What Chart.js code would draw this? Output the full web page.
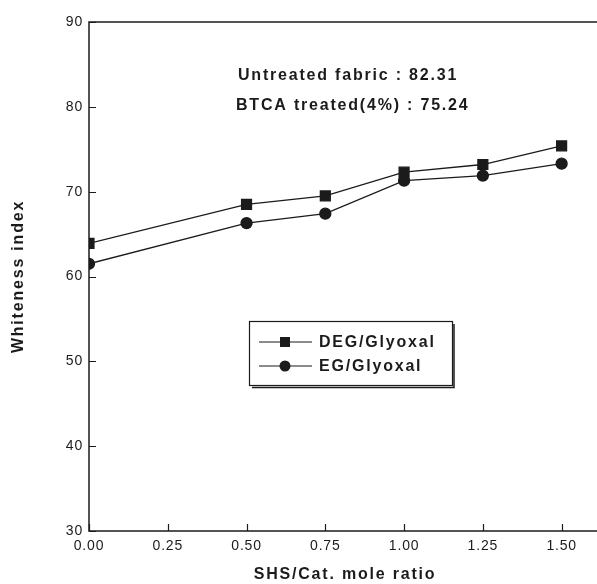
<!DOCTYPE html>
<html>
<head>
<meta charset="utf-8">
<script src="https://cdn.jsdelivr.net/npm/chart.js@4.4.1/dist/chart.umd.min.js"></script>
<style>
  html, body { margin: 0; padding: 0; background: #fff; overflow: hidden; }
  #wrap { width: 620px; height: 584px; }
</style>
</head>
<body>
<div id="wrap"><canvas id="whiteness" width="620" height="584"></canvas></div>
<script>
// values
const ratios = [0.00, 0.50, 0.75, 1.00, 1.25, 1.50];
const degGlyoxal = [63.9, 68.5, 69.5, 72.3, 73.2, 75.4];
const egGlyoxal = [61.5, 66.3, 67.4, 71.3, 71.9, 73.3];
const seriesNames = ['DEG/Glyoxal', 'EG/Glyoxal'];
const notes = ['Untreated fabric : 82.31', 'BTCA treated(4%) : 75.24'];
const yTicks = [30, 40, 50, 60, 70, 80, 90];

const ink = '#1b1b1b';
const fontFamily = '"Liberation Sans", Arial, sans-serif';

function toPoints(values) {
    return ratios.map((r, i) => ({ x: r, y: values[i] }));
}

// frame, inward tick marks, notes and boxed legend
const decorations = {
    id: 'decorations',
    beforeDraw(chart) {
        // axis titles are drawn first, with wide tracking like the scan
        chart.ctx.letterSpacing = '1.8px';
    },
    beforeDatasetsDraw(chart) {
        const { ctx, chartArea: a, scales } = chart;
        ctx.save();
        ctx.strokeStyle = ink;
        ctx.lineWidth = 1.5;
        ctx.strokeRect(a.left, a.top, a.right - a.left, a.bottom - a.top);
        ctx.lineWidth = 1.2;
        ctx.beginPath();
        scales.x.ticks.forEach(t => {
            const px = Math.round(scales.x.getPixelForValue(t.value)) + 0.5;
            ctx.moveTo(px, a.bottom);
            ctx.lineTo(px, a.bottom - 7);
        });
        scales.y.ticks.forEach(t => {
            const py = Math.round(scales.y.getPixelForValue(t.value)) + 0.5;
            ctx.moveTo(a.left, py);
            ctx.lineTo(a.left + 7, py);
        });
        ctx.stroke();
        ctx.restore();
    },
    afterDatasetsDraw(chart) {
        // tick labels (z: 1) come after this, with lighter tracking
        chart.ctx.letterSpacing = '0.8px';
    },
    afterDraw(chart) {
        const ctx = chart.ctx;
        ctx.save();
        ctx.letterSpacing = '1.8px';
        ctx.fillStyle = ink;
        ctx.font = 'bold 16px ' + fontFamily;
        ctx.textBaseline = 'middle';
        ctx.textAlign = 'left';
        ctx.fillText(notes[0], 238, 76);
        ctx.fillText(notes[1], 236, 106);

        // legend box with a small drop shadow
        ctx.strokeStyle = ink;
        ctx.lineWidth = 1.2;
        ctx.strokeRect(249.5, 321.5, 203, 64);
        ctx.lineWidth = 1.5;
        ctx.beginPath();
        ctx.moveTo(454, 324);
        ctx.lineTo(454, 387.5);
        ctx.lineTo(252, 387.5);
        ctx.stroke();

        const rows = [342, 366];
        rows.forEach((ry, i) => {
            ctx.lineWidth = 1.2;
            ctx.beginPath();
            ctx.moveTo(259, ry);
            ctx.lineTo(312, ry);
            ctx.stroke();
            ctx.beginPath();
            if (i === 0) {
                ctx.rect(280, ry - 5, 10, 10);
            } else {
                ctx.arc(285, ry, 5.5, 0, Math.PI * 2);
            }
            ctx.fill();
            ctx.fillText(seriesNames[i], 319, ry + 1);
        });
        ctx.restore();
        ctx.letterSpacing = '0px';
    }
};

new Chart(document.getElementById('whiteness'), {
    type: 'line',
    data: {
        datasets: [{
            label: seriesNames[0],
            data: toPoints(degGlyoxal),
            borderColor: ink,
            backgroundColor: ink,
            borderWidth: 1.3,
            pointStyle: 'rect',
            pointRadius: 7,
            pointHoverRadius: 7,
            tension: 0
        }, {
            label: seriesNames[1],
            data: toPoints(egGlyoxal),
            borderColor: ink,
            backgroundColor: ink,
            borderWidth: 1.3,
            pointStyle: 'circle',
            pointRadius: 5.5,
            pointHoverRadius: 5.5,
            tension: 0
        }]
    },
    options: {
        responsive: false,
        animation: false,
        layout: { padding: { top: 22, right: 19, bottom: 0, left: 0 } },
        plugins: {
            legend: { display: false },
            tooltip: { enabled: false }
        },
        scales: {
            x: {
                type: 'linear',
                min: 0,
                max: 1.625,
                grid: { display: false, drawTicks: false },
                border: { display: false },
                ticks: {
                    z: 1,
                    stepSize: 0.25,
                    includeBounds: false,
                    padding: 7,
                    color: ink,
                    font: { family: fontFamily, size: 14 },
                    maxRotation: 0,
                    callback: v => Number(v).toFixed(2)
                },
                title: {
                    display: true,
                    text: 'SHS/Cat. mole ratio',
                    color: ink,
                    font: { family: fontFamily, size: 16, weight: 'bold' },
                    padding: { top: 0, bottom: 0 }
                },
                afterFit: s => { s.height = 53; }
            },
            y: {
                min: 30,
                max: 90,
                grid: { display: false, drawTicks: false },
                border: { display: false },
                afterBuildTicks: s => { s.ticks = yTicks.map(v => ({ value: v })); },
                ticks: {
                    z: 1,
                    padding: 6,
                    color: ink,
                    font: { family: fontFamily, size: 14 }
                },
                title: {
                    display: true,
                    text: 'Whiteness index',
                    color: ink,
                    font: { family: fontFamily, size: 16, weight: 'bold' },
                    padding: { top: 9, bottom: 0 }
                },
                afterFit: s => { s.width = 89; }
            }
        }
    },
    plugins: [decorations]
});
</script>
</body>
</html>
